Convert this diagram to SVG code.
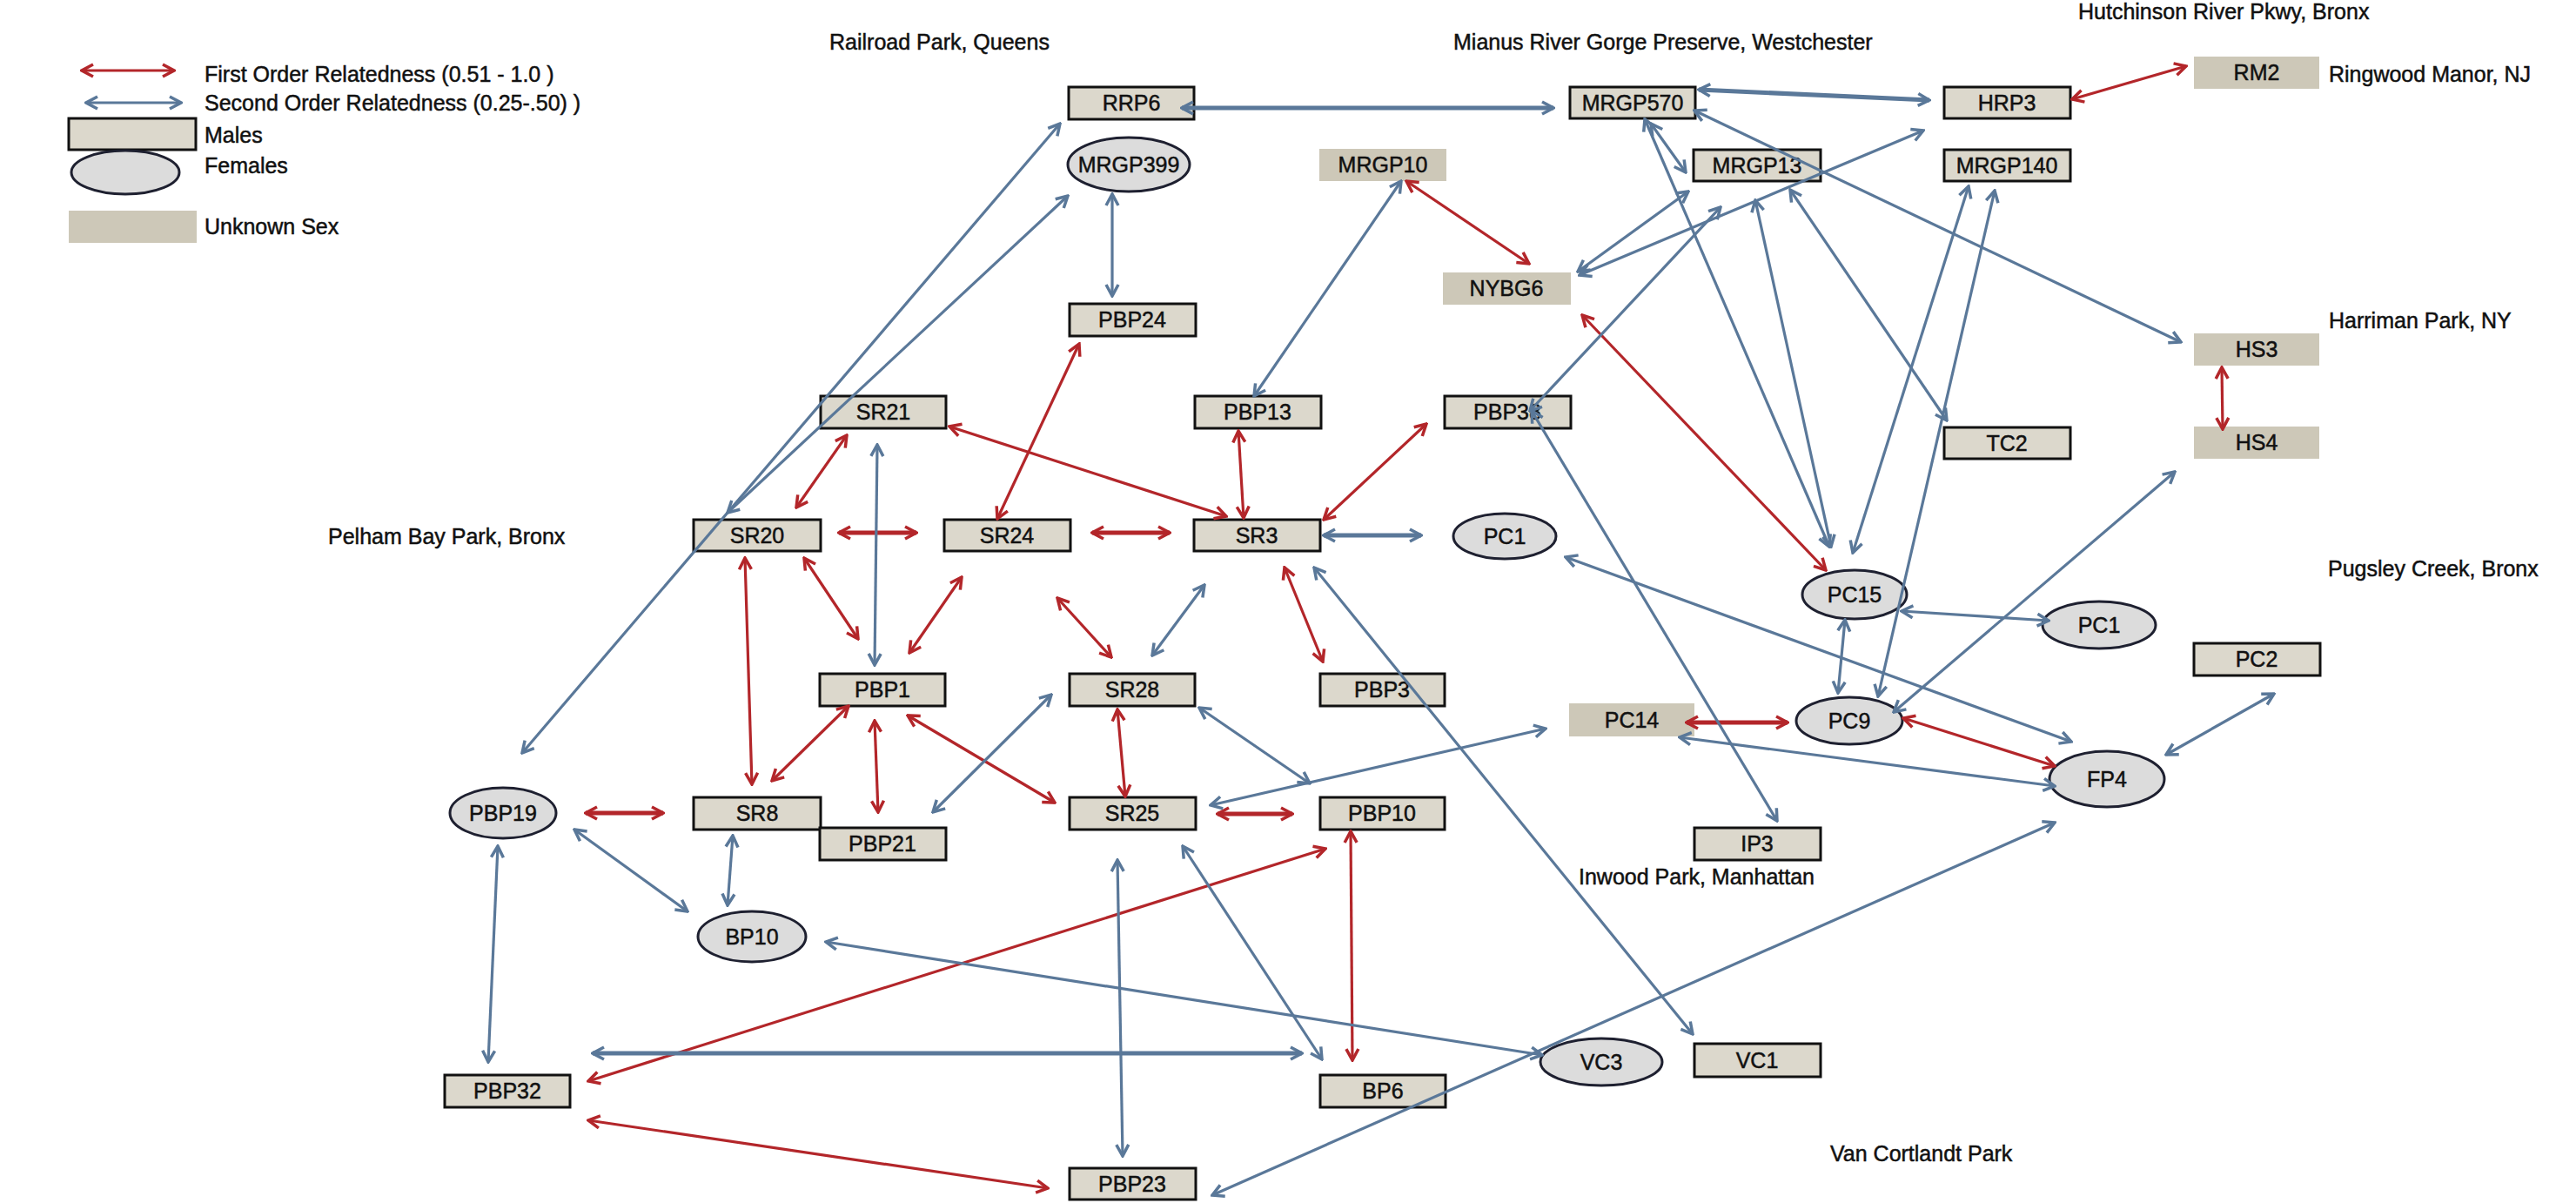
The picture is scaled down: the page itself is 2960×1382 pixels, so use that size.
<svg xmlns="http://www.w3.org/2000/svg" width="2960" height="1382" viewBox="0 0 2960 1382">
<style>
text{font-family:"Liberation Sans",Arial,sans-serif;font-size:25px;fill:#111;stroke:#111;stroke-width:0.5}
.nt{text-anchor:middle}
.m{fill:#dcd8cc;stroke:#111;stroke-width:3}
.u{fill:#cdc8b8;stroke:none}
.f{fill:#dcdcdc;stroke:#1e2030;stroke-width:3}
.r{stroke:#b3262a;stroke-width:3.2;fill:none;marker-start:url(#ar);marker-end:url(#ar)}
.b{stroke:#5a7899;stroke-width:3.2;fill:none;marker-start:url(#ab);marker-end:url(#ab)}
.t{stroke-width:5}
</style>
<defs>
<marker id="ar" viewBox="0 0 18 18" refX="16" refY="9" markerWidth="18" markerHeight="18" markerUnits="userSpaceOnUse" orient="auto-start-reverse">
<path d="M3,2 L16,9 L3,16" fill="none" stroke="#b3262a" stroke-width="3.5"/>
</marker>
<marker id="ab" viewBox="0 0 18 18" refX="16" refY="9" markerWidth="18" markerHeight="18" markerUnits="userSpaceOnUse" orient="auto-start-reverse">
<path d="M3,2 L16,9 L3,16" fill="none" stroke="#5a7899" stroke-width="3.5"/>
</marker>
</defs>
<rect width="2960" height="1382" fill="#fff"/>

<g id="legend">
<line class="r" x1="94" y1="81" x2="200" y2="81"/>
<line class="b" x1="99" y1="118" x2="208" y2="118"/>
<rect class="m" x="79" y="136" width="146" height="36"/>
<ellipse class="f" cx="144" cy="198" rx="62" ry="25"/>
<rect class="u" x="79" y="242" width="147" height="37" fill="#c6c0ae"/>
<text x="235" y="94">First Order Relatedness (0.51 - 1.0 )</text>
<text x="235" y="127">Second Order Relatedness (0.25-.50) )</text>
<text x="235" y="164">Males</text>
<text x="235" y="199">Females</text>
<text x="235" y="269">Unknown Sex</text>
</g>

<g id="locations">
<text x="953" y="57">Railroad Park, Queens</text>
<text x="1670" y="57">Mianus River Gorge Preserve, Westchester</text>
<text x="2388" y="22">Hutchinson River Pkwy, Bronx</text>
<text x="2676" y="94">Ringwood Manor, NJ</text>
<text x="2676" y="377">Harriman Park, NY</text>
<text x="377" y="625">Pelham Bay Park, Bronx</text>
<text x="2675" y="662">Pugsley Creek, Bronx</text>
<text x="1814" y="1016">Inwood Park, Manhattan</text>
<text x="2103" y="1334">Van Cortlandt Park</text>
</g>

<g id="n-RRP6"><rect class="m" x="1228" y="100" width="144" height="37"/><text class="nt" x="1300" y="127">RRP6</text></g>
<g id="n-MRGP399"><ellipse class="f" cx="1297" cy="189" rx="70" ry="31"/><text class="nt" x="1297" y="198">MRGP399</text></g>
<g id="n-MRGP10"><rect class="u" x="1516" y="171" width="146" height="37"/><text class="nt" x="1589" y="198">MRGP10</text></g>
<g id="n-NYBG6"><rect class="u" x="1658" y="313" width="147" height="37"/><text class="nt" x="1731" y="340">NYBG6</text></g>
<g id="n-PBP24"><rect class="m" x="1229" y="349" width="145" height="37"/><text class="nt" x="1301" y="376">PBP24</text></g>
<g id="n-SR21"><rect class="m" x="943" y="455" width="144" height="37"/><text class="nt" x="1015" y="482">SR21</text></g>
<g id="n-PBP13"><rect class="m" x="1373" y="455" width="145" height="37"/><text class="nt" x="1445" y="482">PBP13</text></g>
<g id="n-PBP38"><rect class="m" x="1660" y="455" width="145" height="37"/><text class="nt" x="1732" y="482">PBP38</text></g>
<g id="n-SR20"><rect class="m" x="797" y="597" width="146" height="36"/><text class="nt" x="870" y="624">SR20</text></g>
<g id="n-SR24"><rect class="m" x="1085" y="597" width="145" height="36"/><text class="nt" x="1157" y="624">SR24</text></g>
<g id="n-SR3"><rect class="m" x="1372" y="597" width="145" height="36"/><text class="nt" x="1444" y="624">SR3</text></g>
<g id="n-PC1-a"><ellipse class="f" cx="1729" cy="616" rx="59" ry="26"/><text class="nt" x="1729" y="625">PC1</text></g>
<g id="n-PBP1"><rect class="m" x="942" y="774" width="144" height="37"/><text class="nt" x="1014" y="801">PBP1</text></g>
<g id="n-SR28"><rect class="m" x="1229" y="774" width="144" height="37"/><text class="nt" x="1301" y="801">SR28</text></g>
<g id="n-PBP3"><rect class="m" x="1517" y="774" width="143" height="37"/><text class="nt" x="1588" y="801">PBP3</text></g>
<g id="n-SR25"><rect class="m" x="1229" y="916" width="145" height="37"/><text class="nt" x="1301" y="943">SR25</text></g>
<g id="n-PBP10"><rect class="m" x="1517" y="916" width="143" height="37"/><text class="nt" x="1588" y="943">PBP10</text></g>
<g id="n-SR8"><rect class="m" x="797" y="916" width="146" height="37"/><text class="nt" x="870" y="943">SR8</text></g>
<g id="n-PBP21"><rect class="m" x="942" y="951" width="145" height="37"/><text class="nt" x="1014" y="978">PBP21</text></g>
<g id="n-PBP19"><ellipse class="f" cx="578" cy="934" rx="61" ry="29"/><text class="nt" x="578" y="943">PBP19</text></g>
<g id="n-BP10"><ellipse class="f" cx="864" cy="1076" rx="62" ry="29"/><text class="nt" x="864" y="1085">BP10</text></g>
<g id="n-PBP32"><rect class="m" x="511" y="1235" width="144" height="37"/><text class="nt" x="583" y="1262">PBP32</text></g>
<g id="n-BP6"><rect class="m" x="1517" y="1235" width="144" height="37"/><text class="nt" x="1589" y="1262">BP6</text></g>
<g id="n-PBP23"><rect class="m" x="1229" y="1342" width="145" height="36"/><text class="nt" x="1301" y="1369">PBP23</text></g>
<g id="n-VC3"><ellipse class="f" cx="1840" cy="1220" rx="70" ry="27"/><text class="nt" x="1840" y="1229">VC3</text></g>
<g id="n-VC1"><rect class="m" x="1947" y="1199" width="145" height="38"/><text class="nt" x="2019" y="1227">VC1</text></g>
<g id="n-IP3"><rect class="m" x="1947" y="951" width="145" height="37"/><text class="nt" x="2019" y="978">IP3</text></g>
<g id="n-PC14"><rect class="u" x="1803" y="808" width="144" height="38"/><text class="nt" x="1875" y="836">PC14</text></g>
<g id="n-PC9"><ellipse class="f" cx="2125" cy="828" rx="61" ry="27"/><text class="nt" x="2125" y="837">PC9</text></g>
<g id="n-PC15"><ellipse class="f" cx="2131" cy="683" rx="60" ry="28"/><text class="nt" x="2131" y="692">PC15</text></g>
<g id="n-PC1-b"><ellipse class="f" cx="2412" cy="718" rx="65" ry="27"/><text class="nt" x="2412" y="727">PC1</text></g>
<g id="n-PC2"><rect class="m" x="2521" y="739" width="145" height="37"/><text class="nt" x="2593" y="766">PC2</text></g>
<g id="n-FP4"><ellipse class="f" cx="2421" cy="895" rx="66" ry="32"/><text class="nt" x="2421" y="904">FP4</text></g>
<g id="n-MRGP570"><rect class="m" x="1804" y="100" width="144" height="36"/><text class="nt" x="1876" y="127">MRGP570</text></g>
<g id="n-HRP3"><rect class="m" x="2234" y="100" width="145" height="36"/><text class="nt" x="2306" y="127">HRP3</text></g>
<g id="n-RM2"><rect class="u" x="2521" y="65" width="144" height="37"/><text class="nt" x="2593" y="92">RM2</text></g>
<g id="n-MRGP13"><rect class="m" x="1946" y="172" width="146" height="36"/><text class="nt" x="2019" y="199">MRGP13</text></g>
<g id="n-MRGP140"><rect class="m" x="2234" y="172" width="145" height="36"/><text class="nt" x="2306" y="199">MRGP140</text></g>
<g id="n-HS3"><rect class="u" x="2521" y="383" width="144" height="37"/><text class="nt" x="2593" y="410">HS3</text></g>
<g id="n-TC2"><rect class="m" x="2234" y="491" width="145" height="36"/><text class="nt" x="2306" y="518">TC2</text></g>
<g id="n-HS4"><rect class="u" x="2521" y="490" width="144" height="37"/><text class="nt" x="2593" y="517">HS4</text></g>

<g id="connectors">
<line class="r" x1="2381" y1="114" x2="2512" y2="76"/>
<line class="r" x1="1616" y1="208" x2="1757" y2="303"/>
<line class="r" x1="1818" y1="362" x2="2098" y2="655"/>
<line class="r" x1="2553" y1="422" x2="2554" y2="493"/>
<line class="r" x1="1091" y1="490" x2="1409" y2="593"/>
<line class="r" x1="973" y1="500" x2="915" y2="583"/>
<line class="r t" x1="964" y1="612" x2="1053" y2="612"/>
<line class="r t" x1="1255" y1="612" x2="1344" y2="612"/>
<line class="r" x1="1240" y1="395" x2="1146" y2="596"/>
<line class="r" x1="1423" y1="495" x2="1429" y2="595"/>
<line class="r" x1="1639" y1="487" x2="1521" y2="597"/>
<line class="r" x1="924" y1="641" x2="986" y2="734"/>
<line class="r" x1="1105" y1="663" x2="1045" y2="750"/>
<line class="r" x1="856" y1="641" x2="864" y2="901"/>
<line class="r" x1="975" y1="811" x2="887" y2="897"/>
<line class="r" x1="1005" y1="828" x2="1009" y2="933"/>
<line class="r" x1="1043" y1="822" x2="1212" y2="922"/>
<line class="r" x1="1215" y1="687" x2="1277" y2="755"/>
<line class="r" x1="1476" y1="652" x2="1520" y2="760"/>
<line class="r" x1="1284" y1="815" x2="1293" y2="915"/>
<line class="r t" x1="1399" y1="935" x2="1485" y2="935"/>
<line class="r t" x1="673" y1="934" x2="762" y2="934"/>
<line class="r" x1="1552" y1="955" x2="1554" y2="1218"/>
<line class="r" x1="1523" y1="975" x2="676" y2="1242"/>
<line class="r" x1="676" y1="1287" x2="1204" y2="1365"/>
<line class="r t" x1="1938" y1="830" x2="2054" y2="830"/>
<line class="r" x1="2187" y1="825" x2="2361" y2="880"/>

<line class="b t" x1="1358" y1="124" x2="1785" y2="124"/>
<line class="b t" x1="1952" y1="103" x2="2217" y2="115"/>
<line class="b" x1="1947" y1="127" x2="2506" y2="393"/>
<line class="b" x1="1897" y1="142" x2="1937" y2="198"/>
<line class="b" x1="1890" y1="137" x2="2102" y2="628"/>
<line class="b" x1="1813" y1="312" x2="1940" y2="220"/>
<line class="b" x1="1815" y1="316" x2="2210" y2="150"/>
<line class="b" x1="1758" y1="472" x2="1977" y2="238"/>
<line class="b" x1="1760" y1="472" x2="2042" y2="943"/>
<line class="b" x1="2017" y1="230" x2="2104" y2="628"/>
<line class="b" x1="2057" y1="218" x2="2237" y2="483"/>
<line class="b" x1="2262" y1="214" x2="2129" y2="635"/>
<line class="b" x1="2292" y1="219" x2="2158" y2="800"/>
<line class="b" x1="2499" y1="542" x2="2176" y2="818"/>
<line class="b" x1="2120" y1="712" x2="2112" y2="796"/>
<line class="b" x1="2185" y1="702" x2="2354" y2="713"/>
<line class="b t" x1="1521" y1="615" x2="1633" y2="615"/>
<line class="b" x1="1799" y1="640" x2="2380" y2="852"/>
<line class="b" x1="1930" y1="847" x2="2361" y2="903"/>
<line class="b" x1="1391" y1="925" x2="1776" y2="837"/>
<line class="b" x1="1378" y1="813" x2="1505" y2="900"/>
<line class="b" x1="1384" y1="672" x2="1324" y2="753"/>
<line class="b" x1="1510" y1="652" x2="1945" y2="1188"/>
<line class="b" x1="1610" y1="208" x2="1441" y2="455"/>
<line class="b" x1="1278" y1="223" x2="1278" y2="340"/>
<line class="b" x1="1218" y1="142" x2="600" y2="865"/>
<line class="b" x1="1227" y1="225" x2="836" y2="589"/>
<line class="b" x1="1008" y1="511" x2="1005" y2="764"/>
<line class="b" x1="1208" y1="798" x2="1072" y2="933"/>
<line class="b" x1="572" y1="972" x2="561" y2="1220"/>
<line class="b" x1="660" y1="953" x2="790" y2="1047"/>
<line class="b" x1="842" y1="960" x2="836" y2="1040"/>
<line class="b" x1="949" y1="1082" x2="1772" y2="1212"/>
<line class="b t" x1="681" y1="1210" x2="1496" y2="1210"/>
<line class="b" x1="1284" y1="988" x2="1290" y2="1328"/>
<line class="b" x1="1359" y1="972" x2="1519" y2="1217"/>
<line class="b" x1="1393" y1="1373" x2="2361" y2="945"/>
<line class="b" x1="2613" y1="797" x2="2489" y2="867"/>
</g>
</svg>
